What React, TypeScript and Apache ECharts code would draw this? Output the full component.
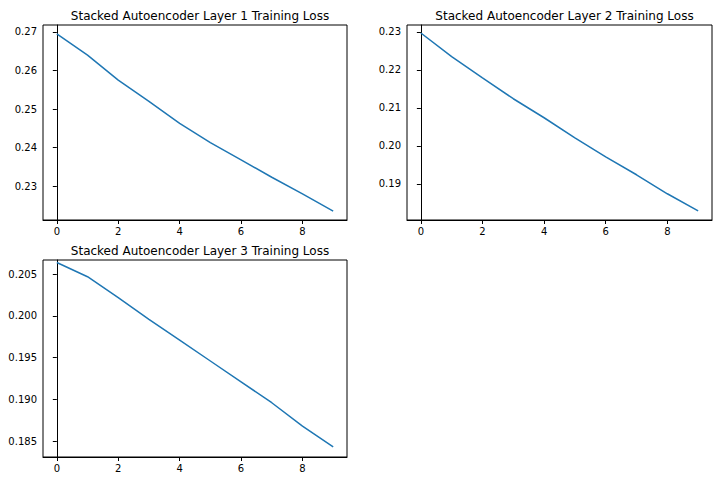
import React, { useEffect, useRef } from 'react';
import * as echarts from 'echarts';

const epochs = [0, 1, 2, 3, 4, 5, 6, 7, 8, 9];
const layer1 = [0.2695, 0.264, 0.2575, 0.252, 0.2463, 0.2413, 0.2368, 0.2323, 0.228, 0.2235];
const layer2 = [0.2297, 0.2235, 0.2179, 0.2124, 0.2074, 0.2021, 0.1971, 0.1924, 0.1874, 0.1829];
const layer3 = [0.2064, 0.2047, 0.2022, 0.1996, 0.1971, 0.1946, 0.1921, 0.1896, 0.1868, 0.1843];
const xTicks = [0, 2, 4, 6, 8];
const yTicks1 = [0.23, 0.24, 0.25, 0.26, 0.27];
const yTicks2 = [0.19, 0.2, 0.21, 0.22, 0.23];
const yTicks3 = [0.185, 0.19, 0.195, 0.2, 0.205];
const titles = [
  'Stacked Autoencoder Layer 1 Training Loss',
  'Stacked Autoencoder Layer 2 Training Loss',
  'Stacked Autoencoder Layer 3 Training Loss',
];

const font = 'DejaVu Sans';

const App: React.FC = () => {
  const ref = useRef<HTMLDivElement>(null);

  useEffect(() => {
    document.body.style.margin = '0';
    if (!ref.current) return;
    const chart = echarts.init(ref.current, undefined, { renderer: 'svg' });

    const grids = [
      { left: 43, top: 25, width: 304, height: 195 },
      { left: 407, top: 25, width: 305, height: 195 },
      { left: 43, top: 260, width: 304, height: 197 },
    ];
    const yRanges = [
      { min: 0.2212, max: 0.2718, ticks: yTicks1, dec: 2 },
      { min: 0.1805, max: 0.2318, ticks: yTicks2, dec: 2 },
      { min: 0.1831, max: 0.2067, ticks: yTicks3, dec: 3 },
    ];
    const data = [layer1, layer2, layer3];

    chart.setOption({
      animation: false,
      textStyle: { fontFamily: font },
      title: grids.map((g, i) => ({
        text: titles[i],
        left: g.left + g.width / 2,
        top: g.top - 20,
        textAlign: 'center',
        textStyle: { fontSize: 12, fontWeight: 'normal', color: '#000', fontFamily: font },
      })),
      grid: grids.map((g) => ({ ...g, show: true, borderColor: '#000', borderWidth: 1, backgroundColor: '#fff' })),
      xAxis: grids.map((_, i) => ({
        type: 'value',
        gridIndex: i,
        min: -0.45,
        max: 9.45,
        splitLine: { show: false },
        axisLine: { lineStyle: { color: '#000' } },
        axisTick: { customValues: xTicks, length: 4, lineStyle: { color: '#000' } },
        axisLabel: { customValues: xTicks, color: '#000', fontSize: 10, margin: 6 },
      })),
      yAxis: yRanges.map((r, i) => ({
        type: 'value',
        gridIndex: i,
        min: r.min,
        max: r.max,
        splitLine: { show: false },
        axisLine: { show: true, lineStyle: { color: '#000' } },
        axisTick: { show: true, customValues: r.ticks, length: 4, lineStyle: { color: '#000' } },
        axisLabel: {
          customValues: r.ticks,
          color: '#000',
          fontSize: 10,
          margin: 6,
          formatter: (v: number) => v.toFixed(r.dec),
        },
      })),
      series: data.map((d, i) => ({
        type: 'line',
        xAxisIndex: i,
        yAxisIndex: i,
        data: d.map((v, j) => [epochs[j], v]),
        showSymbol: false,
        lineStyle: { color: '#1f77b4', width: 1.5 },
      })),
    });

    return () => chart.dispose();
  }, []);

  return <div ref={ref} style={{ width: 723, height: 482 }} />;
};

export default App;
